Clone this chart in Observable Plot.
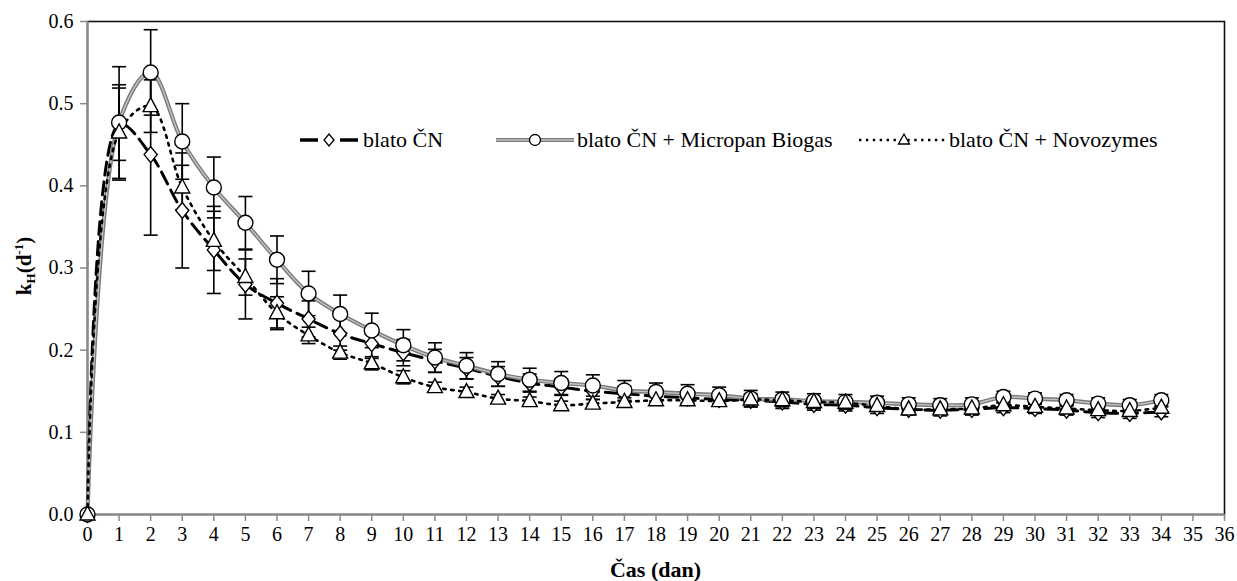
<!DOCTYPE html>
<html>
<head>
<meta charset="utf-8">
<script src="https://cdn.jsdelivr.net/npm/d3@7"></script>
<script src="https://cdn.jsdelivr.net/npm/@observablehq/plot@0.6"></script>
<style>
  body { margin: 0; background: #fff; }
  #wrap { position: relative; width: 1237px; height: 581px; }
  #wrap svg, #wrap svg text, #wrap svg tspan { font-family: 'Liberation Serif', serif !important; }
  .lg { position: absolute; top: 127px; height: 26px; display: flex; align-items: center;
        font-family: 'Liberation Serif', serif; font-size: 22px; color: #000; white-space: nowrap; }
  .lg svg { display: block; margin-right: 3px; }
</style>
</head>
<body>
<div id="wrap"></div>
<script>
// ---- data ----
const days = [0,1,2,3,4,5,6,7,8,9,10,11,12,13,14,15,16,17,18,19,20,21,22,23,24,25,26,27,28,29,30,31,32,33,34];
const xTicks = [0,1,2,3,4,5,6,7,8,9,10,11,12,13,14,15,16,17,18,19,20,21,22,23,24,25,26,27,28,29,30,31,32,33,34,35,36];
const yTicks = [0, 0.1, 0.2, 0.3, 0.4, 0.5, 0.6];
const seriesNames = ["blato ČN", "blato ČN + Micropan Biogas", "blato ČN + Novozymes"];

const cnValues = [0,0.475,0.438,0.370,0.322,0.280,0.257,0.238,0.220,0.208,0.197,0.187,0.178,0.168,0.160,0.155,0.150,0.147,0.144,0.142,0.140,0.139,0.137,0.134,0.133,0.130,0.128,0.127,0.128,0.130,0.129,0.127,0.124,0.123,0.125];
const cnErr    = [0,0.044,0.098,0.070,0.053,0.042,0.030,0.022,0.020,0.018,0.016,0.014,0.013,0.012,0.011,0.010,0.010,0.009,0.009,0.008,0.008,0.008,0.008,0.007,0.007,0.007,0.007,0.007,0.007,0.006,0.006,0.006,0.006,0.006,0.006];

const mpValues = [0,0.477,0.538,0.454,0.398,0.355,0.310,0.269,0.244,0.224,0.206,0.191,0.181,0.171,0.164,0.160,0.157,0.151,0.149,0.147,0.145,0.141,0.140,0.138,0.137,0.136,0.134,0.133,0.134,0.143,0.141,0.139,0.135,0.133,0.139];
const mpErr    = [0,0.068,0.052,0.046,0.037,0.032,0.029,0.027,0.023,0.021,0.019,0.018,0.016,0.015,0.014,0.014,0.013,0.012,0.011,0.011,0.010,0.010,0.009,0.009,0.009,0.008,0.008,0.008,0.008,0.007,0.007,0.007,0.007,0.007,0.007];

const nvValues = [0,0.465,0.497,0.398,0.333,0.289,0.245,0.218,0.197,0.184,0.167,0.155,0.149,0.141,0.138,0.133,0.135,0.137,0.139,0.139,0.138,0.140,0.139,0.137,0.136,0.132,0.128,0.128,0.129,0.133,0.131,0.129,0.127,0.126,0.130];
const nvErr    = [0,0.058,0.032,0.027,0.036,0.022,0.020,0.010,0.008,0.008,0.008,0.006,0.006,0.005,0.005,0.005,0.005,0.005,0.005,0.005,0.005,0.005,0.005,0.005,0.005,0.005,0.005,0.005,0.005,0.005,0.005,0.005,0.005,0.005,0.005];

// ---- build tables ----
function rows(vals, errs, name) {
  return days.map((d, i) => ({day: d, v: vals[i], e: errs[i], series: name}));
}
const cn = rows(cnValues, cnErr, seriesNames[0]);
const mp = rows(mpValues, mpErr, seriesNames[1]);
const nv = rows(nvValues, nvErr, seriesNames[2]);
const allErr = [...cn, ...mp, ...nv].filter(d => d.e > 0);

// custom symbols
const capSym = {draw(ctx) { ctx.moveTo(-7, 0); ctx.lineTo(7, 0); }};
const diamondSym = {draw(ctx) { ctx.moveTo(0, -8); ctx.lineTo(6.5, 0); ctx.lineTo(0, 8); ctx.lineTo(-6.5, 0); ctx.closePath(); }};
const triSym = {draw(ctx) { ctx.moveTo(0, -8.5); ctx.lineTo(7.5, 5.5); ctx.lineTo(-7.5, 5.5); ctx.closePath(); }};

const chart = Plot.plot({
  width: 1237,
  height: 581,
  marginTop: 21,
  marginRight: 13,
  marginBottom: 67,
  marginLeft: 87,
  style: {fontSize: "20px", color: "#000", background: "#fff", overflow: "visible"},
  x: {domain: [0, 36]},
  y: {domain: [0, 0.6]},
  marks: [
    Plot.frame({stroke: "#111", strokeWidth: 1.6}),
    Plot.ruleX([0], {stroke: "#8a8a8a", strokeWidth: 2}),
    Plot.ruleY([0], {stroke: "#8a8a8a", strokeWidth: 2}),
    Plot.axisX({ticks: xTicks, tickSize: 7, tickPadding: 5, tickFormat: d => String(d), stroke: "#8a8a8a", strokeWidth: 1.5, fill: "#000", label: null}),
    Plot.axisY({ticks: yTicks, tickSize: 7, tickPadding: 7, tickFormat: d3.format(".1f"), stroke: "#8a8a8a", strokeWidth: 1.5, fill: "#000", label: null}),
    // error bars
    Plot.ruleX(allErr, {x: "day", y1: d => d.v - d.e, y2: d => d.v + d.e, stroke: "#000", strokeWidth: 1.6}),
    Plot.dot(allErr, {x: "day", y: d => d.v + d.e, symbol: capSym, r: 4, fill: "none", stroke: "#000", strokeWidth: 1.6}),
    Plot.dot(allErr, {x: "day", y: d => d.v - d.e, symbol: capSym, r: 4, fill: "none", stroke: "#000", strokeWidth: 1.6}),
    // lines
    Plot.line(cn, {x: "day", y: "v", curve: "catmull-rom", stroke: "#000", strokeWidth: 3, strokeDasharray: "13,7"}),
    Plot.line(mp, {x: "day", y: "v", curve: "catmull-rom", stroke: "#7a7a7a", strokeWidth: 4.2}),
    Plot.line(mp, {x: "day", y: "v", curve: "catmull-rom", stroke: "#c4c4c4", strokeWidth: 1.4}),
    Plot.line(nv, {x: "day", y: "v", curve: "catmull-rom", stroke: "#000", strokeWidth: 2.6, strokeDasharray: "2.6,5.5"}),
    // markers
    Plot.dot(cn, {x: "day", y: "v", symbol: diamondSym, r: 4, fill: "#fff", stroke: "#000", strokeWidth: 1.4}),
    Plot.dot(mp, {x: "day", y: "v", r: 7.5, fill: "#fff", stroke: "#000", strokeWidth: 1.4}),
    Plot.dot(nv, {x: "day", y: "v", symbol: triSym, r: 4, fill: "#fff", stroke: "#000", strokeWidth: 1.4})
  ]
});

const wrap = document.getElementById("wrap");
wrap.appendChild(chart);
chart.setAttribute("font-family", "Liberation Serif");

// axis titles
const svg = d3.select(chart);
svg.append("text")
  .attr("x", (87 + 1224) / 2).attr("y", 577)
  .attr("text-anchor", "middle")
  .attr("font-family", "Liberation Serif").attr("font-size", 22).attr("font-weight", "bold").attr("fill", "#000")
  .text("Čas (dan)");
const yl = svg.append("text")
  .attr("transform", "translate(31,266) rotate(-90)")
  .attr("text-anchor", "middle")
  .attr("font-family", "Liberation Serif").attr("font-size", 21).attr("font-weight", "bold").attr("fill", "#000");
yl.append("tspan").text("k");
yl.append("tspan").attr("font-size", 13).attr("dy", 4).text("H");
yl.append("tspan").attr("dy", -4).text("(d");
yl.append("tspan").attr("font-size", 13).attr("dy", -8).text("-1");
yl.append("tspan").attr("dy", 8).text(")");

// legend (HTML overlay)
const legendItems = [
  {name: seriesNames[0], left: 300, w: 60,
   svg: '<line x1="0" y1="13" x2="18" y2="13" stroke="#000" stroke-width="3.5"/><line x1="40" y1="13" x2="58" y2="13" stroke="#000" stroke-width="3.5"/><path d="M29,7 L34,13 L29,19 L24,13Z" fill="#fff" stroke="#000" stroke-width="1.3"/>'},
  {name: seriesNames[1], left: 496, w: 78,
   svg: '<line x1="0" y1="13" x2="78" y2="13" stroke="#7a7a7a" stroke-width="4"/><line x1="0" y1="13" x2="78" y2="13" stroke="#c4c4c4" stroke-width="1.3"/><circle cx="39" cy="13" r="5.5" fill="#fff" stroke="#000" stroke-width="1.3"/>'},
  {name: seriesNames[2], left: 859, w: 87,
   svg: '<line x1="0" y1="13" x2="87" y2="13" stroke="#000" stroke-width="2.4" stroke-dasharray="2.4,4.5"/><path d="M45,7 L50.5,17 L39.5,17Z" fill="#fff" stroke="#000" stroke-width="1.3"/>'}
];
for (const it of legendItems) {
  const div = document.createElement("div");
  div.className = "lg";
  div.style.left = it.left + "px";
  div.innerHTML = `<svg width="${it.w}" height="26">${it.svg}</svg><span>${it.name}</span>`;
  wrap.appendChild(div);
}
</script>
</body>
</html>
